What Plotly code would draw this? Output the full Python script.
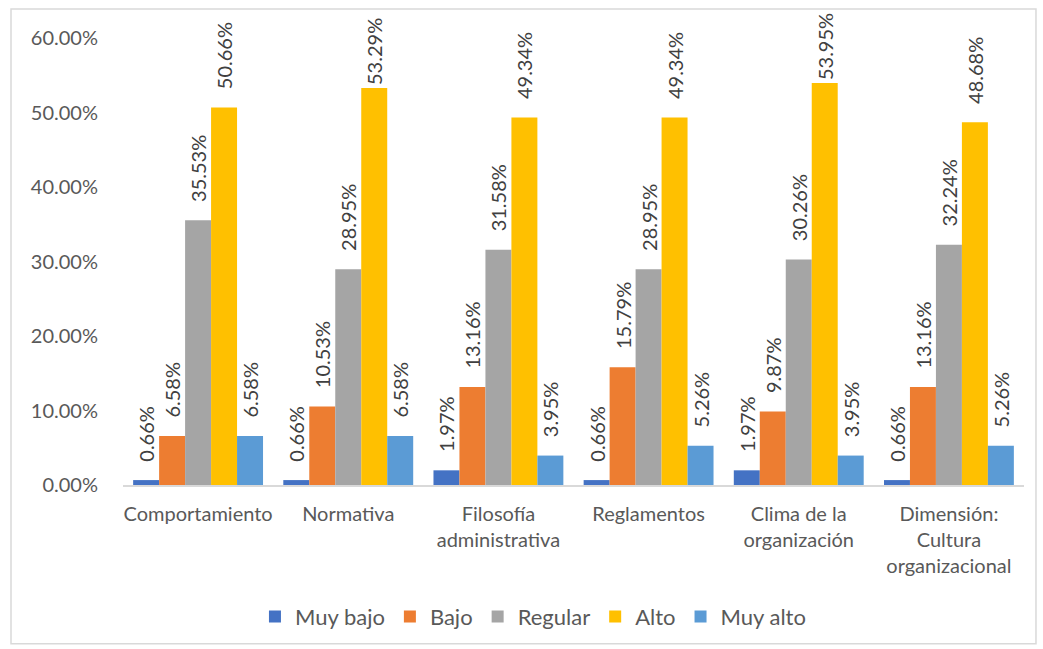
import plotly.graph_objects as go

categories = ["Comportamiento", "Normativa", "Filosofía<br>administrativa", "Reglamentos",
              "Clima de la<br>organización", "Dimensión:<br>Cultura<br>organizacional"]
series_names = ["Muy bajo", "Bajo", "Regular", "Alto", "Muy alto"]
muy_bajo = [0.0066, 0.0066, 0.0197, 0.0066, 0.0197, 0.0066]
bajo = [0.0658, 0.1053, 0.1316, 0.1579, 0.0987, 0.1316]
regular = [0.3553, 0.2895, 0.3158, 0.2895, 0.3026, 0.3224]
alto = [0.5066, 0.5329, 0.4934, 0.4934, 0.5395, 0.4868]
muy_alto = [0.0658, 0.0658, 0.0395, 0.0526, 0.0395, 0.0526]
colors = ["#4472C4", "#ED7D31", "#A5A5A5", "#FFC000", "#5B9BD5"]

FONT = "Lato"
PAD = "\u00a0\u00a0\u00a0"
fig = go.Figure()
for name, vals, col in zip(series_names, [muy_bajo, bajo, regular, alto, muy_alto], colors):
    # labels near the top of the plot area are kept inside the chart (as Excel does)
    templates = [("" if v > 0.52 else PAD) + "%{y:.2%}" for v in vals]
    fig.add_trace(go.Bar(
        x=categories, y=vals, name=name, marker_color=col,
        marker_line_width=0,
        texttemplate=templates, textposition="outside", textangle=-90,
        constraintext="none",
        textfont=dict(family=FONT, size=20, color="#404040"),
        cliponaxis=False,
    ))

fig.update_layout(
    barmode="group", bargap=0.135, bargroupgap=0,
    width=1043, height=649,
    margin=dict(l=123, r=19, t=38, b=163),
    plot_bgcolor="white", paper_bgcolor="white",
    font=dict(family=FONT, color="#595959"),
    legend=dict(orientation="h", x=0.455, xanchor="center", y=-0.292, yanchor="middle",
                font=dict(size=22, color="#595959"), itemwidth=30),
    yaxis=dict(range=[0, 0.6], dtick=0.1, tickformat=".2%", showgrid=False,
               zeroline=False, showline=False, tickfont=dict(size=20, color="#595959"),
               ticks="", ticklabelstandoff=24, automargin=False),
    xaxis=dict(showline=True, linecolor="#D9D9D9", linewidth=1.5, ticks="",
               tickfont=dict(size=20, color="#595959"), tickangle=0, automargin=False,
               ticklabelstandoff=10),
    shapes=[dict(type="rect", xref="paper", yref="paper",
                 x0=-0.1243, x1=1.0133, y0=-0.3549, y1=1.0647,
                 line=dict(color="#D9D9D9", width=1.5))],
)
fig.write_html("out.html")
